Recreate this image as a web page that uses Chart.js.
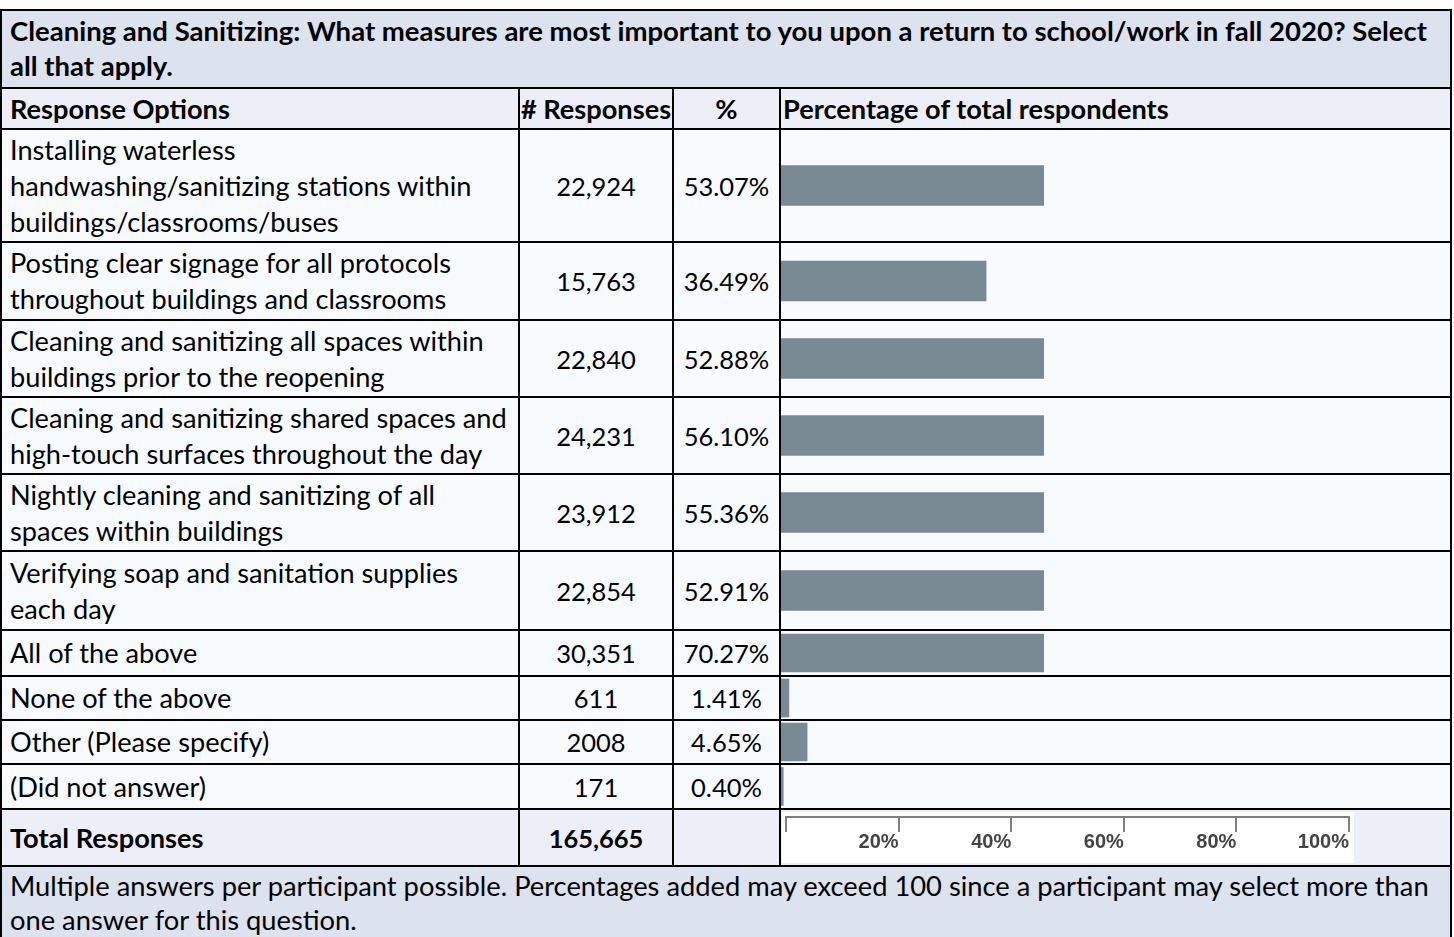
<!DOCTYPE html>
<html>
<head>
<meta charset="utf-8">
<script src="https://cdn.jsdelivr.net/npm/chart.js@4.4.1/dist/chart.umd.min.js"></script>
<style>
  html, body { margin: 0; padding: 0; background: #ffffff; }
  body { width: 1454px; height: 937px; position: relative; overflow: hidden;
         font-family: Lato, "Open Sans", "Noto Sans", sans-serif; color: #000; }
  .bg { position: absolute; }
  .ln { position: absolute; background: #000; }
  .cell { position: absolute; box-sizing: border-box; display: flex; align-items: center;
          font-size: 27.2px; line-height: 36px; white-space: nowrap; }
  .cell.num { font-size: 25.5px; }
  .cell.left { justify-content: flex-start; padding-left: 8px; }
  .cell.center { justify-content: center; text-align: center; }
  .bold { font-weight: bold; }
  .block { display: block; }
  .title { position: absolute; left: 10px; top: 13px; font-weight: bold; font-size: 27.5px; line-height: 35px; white-space: nowrap; }
  .foot { position: absolute; left: 10px; top: 869px; font-size: 27.3px; line-height: 34px; white-space: nowrap; }
  canvas { position: absolute; display: block; }
</style>
</head>
<body>
<script>
// ---------------- DATA ----------------
const titleLines = [
  "Cleaning and Sanitizing: What measures are most important to you upon a return to school/work in fall 2020? Select",
  "all that apply."
];
const headers = ["Response Options", "# Responses", "%", "Percentage of total respondents"];
const categories = [
  ["Installing waterless", "handwashing/sanitizing stations within", "buildings/classrooms/buses"],
  ["Posting clear signage for all protocols", "throughout buildings and classrooms"],
  ["Cleaning and sanitizing all spaces within", "buildings prior to the reopening"],
  ["Cleaning and sanitizing shared spaces and", "high-touch surfaces throughout the day"],
  ["Nightly cleaning and sanitizing of all", "spaces within buildings"],
  ["Verifying soap and sanitation supplies", "each day"],
  ["All of the above"],
  ["None of the above"],
  ["Other (Please specify)"],
  ["(Did not answer)"]
];
const responseCounts = ["22,924", "15,763", "22,840", "24,231", "23,912", "22,854", "30,351", "611", "2008", "171"];
const percentages = [53.07, 36.49, 52.88, 56.10, 55.36, 52.91, 70.27, 1.41, 4.65, 0.40];
const totalLabel = "Total Responses";
const totalResponses = "165,665";
const axisTicks = [0, 20, 40, 60, 80, 100];
const footnoteLines = [
  "Multiple answers per participant possible. Percentages added may exceed 100 since a participant may select more than",
  "one answer for this question."
];

// ---------------- LAYOUT / STYLE ----------------
const COL_X = [1, 519, 673, 780, 1451];                 // column rule centres
const ROW_Y = [10, 88, 129, 242, 320, 397, 474, 551, 630, 676, 720, 764, 809, 866]; // row rule centres
const PAGE_BOTTOM = 937;
const BAR_COLOR = "#7a8a95";
const BAR_VISIBLE_MAX = 46.8;     // the reference image crops the bar column here
const COLORS = { title: "#dce2ee", header: "#eceff7", body: "#f7fbfd", total: "#eceff7", foot: "#dce2ee" };

function el(tag, cls, style, html) {
  const e = document.createElement(tag);
  if (cls) e.className = cls;
  Object.assign(e.style, style || {});
  if (html !== undefined) e.innerHTML = html;
  document.body.appendChild(e);
  return e;
}
const px = v => v + "px";

// backgrounds
function band(y0, y1, color) {
  el("div", "bg", { left: px(COL_X[0]), top: px(y0), width: px(COL_X[4] - COL_X[0]), height: px(y1 - y0), background: color });
}
band(ROW_Y[0], ROW_Y[1], COLORS.title);
band(ROW_Y[1], ROW_Y[2], COLORS.header);
band(ROW_Y[2], ROW_Y[12], COLORS.body);
band(ROW_Y[12], ROW_Y[13], COLORS.total);
band(ROW_Y[13], PAGE_BOTTOM, COLORS.foot);

// white box behind the axis in the total row
const AXIS_BOX = { left: 782, top: 812, w: 572, h: 51 };
el("div", "bg", { left: px(AXIS_BOX.left), top: px(AXIS_BOX.top), width: px(AXIS_BOX.w), height: px(AXIS_BOX.h), background: "#ffffff" });

// title + footnote
el("div", "title", {}, titleLines.map(s => `<div>${s}</div>`).join(""));
el("div", "foot", {}, footnoteLines.map(s => `<div>${s}</div>`).join(""));

// text cells
function cell(c, r0, r1, cls, html) {
  el("div", "cell " + cls, {
    left: px(COL_X[c] + 1), width: px(COL_X[c + 1] - COL_X[c] - 2),
    top: px(ROW_Y[r0] + 1), height: px(ROW_Y[r1] - ROW_Y[r0] - 2)
  }, html);
}
cell(0, 1, 2, "left bold", headers[0]);
cell(1, 1, 2, "center bold", headers[1]);
cell(2, 1, 2, "center bold", headers[2]);
el("div", "cell left bold", { left: px(COL_X[3] + 1), width: px(COL_X[4] - COL_X[3] - 2), top: px(ROW_Y[1] + 1),
  height: px(ROW_Y[2] - ROW_Y[1] - 2), paddingLeft: "2px" }, headers[3]);

categories.forEach((lines, i) => {
  const r = i + 2;
  cell(0, r, r + 1, "left", `<div class="block">${lines.join("<br>")}</div>`);
  cell(1, r, r + 1, "center num", responseCounts[i]);
  cell(2, r, r + 1, "center num", percentages[i].toFixed(2) + "%");
});
cell(0, 12, 13, "left bold", totalLabel);
cell(1, 12, 13, "center bold num", totalResponses);

// rules
function hline(y, x0, x1) { el("div", "ln", { left: px(x0 - 1), top: px(y - 1), width: px(x1 - x0 + 2), height: "2px" }); }
function vline(x, y0, y1) { el("div", "ln", { left: px(x - 1), top: px(y0 - 1), width: "2px", height: px(y1 - y0 + 2) }); }
ROW_Y.forEach(y => hline(y, COL_X[0], COL_X[4]));
vline(COL_X[0], ROW_Y[0], PAGE_BOTTOM);
vline(COL_X[4], ROW_Y[0], PAGE_BOTTOM);
for (let c = 1; c <= 3; c++) vline(COL_X[c], ROW_Y[1], ROW_Y[13]);

// ---------------- CHARTS ----------------
const capPlugin = {
  id: "cap",
  beforeDatasetsDraw(chart) {
    const { ctx, chartArea: a, scales: { x } } = chart;
    ctx.save();
    ctx.beginPath();
    ctx.rect(a.left, a.top, x.getPixelForValue(BAR_VISIBLE_MAX) - a.left, a.bottom - a.top);
    ctx.clip();
  },
  afterDatasetsDraw(chart) { chart.ctx.restore(); }
};

const BAR_LEFT = COL_X[3] + 1;
const BAR_CANVAS_W = COL_X[4] - 1 - BAR_LEFT;
const FULL_SCALE_PX = 562;   // width of 0..100 %

categories.forEach((lines, i) => {
  const r = i + 2;
  const top = ROW_Y[r] + 1, h = ROW_Y[r + 1] - ROW_Y[r] - 2;
  const cv = el("canvas", "", { left: px(BAR_LEFT), top: px(top) });
  cv.width = BAR_CANVAS_W; cv.height = h;
  new Chart(cv, {
    type: "bar",
    data: {
      labels: [lines.join(" ")],
      datasets: [{ data: [percentages[i]], backgroundColor: BAR_COLOR, borderWidth: 0,
                   barThickness: h > 60 ? 40 : 38 }]
    },
    options: {
      indexAxis: "y", responsive: false, animation: false, events: [],
      layout: { padding: { left: 0, right: BAR_CANVAS_W - FULL_SCALE_PX, top: 0, bottom: 0 } },
      plugins: { legend: { display: false }, tooltip: { enabled: false } },
      scales: { x: { type: "linear", min: 0, max: 100, display: false }, y: { display: false } }
    },
    plugins: [capPlugin]
  });
});

// percentage axis in the total row (tall transparent canvas; only the axis is drawn)
const AXIS_LINE_Y = 817;
const axCanvas = el("canvas", "", { left: px(AXIS_BOX.left), top: "0px" });
axCanvas.width = AXIS_BOX.w; axCanvas.height = 110;
const axisChart = new Chart(axCanvas, {
  type: "line",
  data: { datasets: [] },
  options: {
    responsive: false, animation: false, events: [],
    layout: { padding: { left: 4, right: 5, top: 0, bottom: 4 } },
    plugins: { legend: { display: false }, tooltip: { enabled: false } },
    scales: {
      x: {
        type: "linear", position: "bottom", min: 0, max: 100, offset: false,
        afterBuildTicks: s => { s.ticks = axisTicks.map(v => ({ value: v })); },
        grid: { offset: false, drawOnChartArea: false, drawTicks: true, tickLength: 15, color: "#7f7f7f", lineWidth: 2 },
        border: { display: true, color: "#7f7f7f", width: 2 },
        ticks: { align: "end", padding: 0, color: "#444444", autoSkip: false, maxRotation: 0, minRotation: 0,
                 font: { family: "Liberation Sans", weight: "bold", size: 20, lineHeight: 1 },
                 callback: v => (v === 0 ? "" : v + "%") }
      },
      y: { display: false }
    }
  }
});
axCanvas.style.top = px(AXIS_LINE_Y - axisChart.chartArea.bottom);
</script>
</body>
</html>
